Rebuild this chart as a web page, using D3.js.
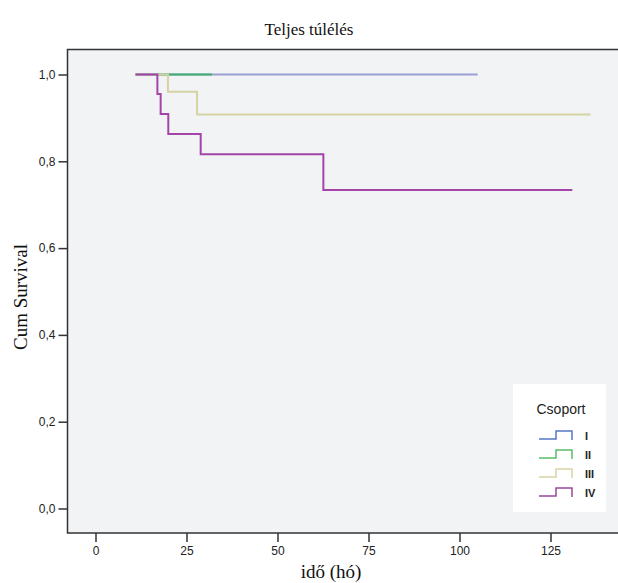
<!DOCTYPE html>
<html>
<head>
<meta charset="utf-8">
<script src="https://cdn.jsdelivr.net/npm/d3@7"></script>
<style>
  body { margin: 0; background: #fff; }
  svg { display: block; }
</style>
</head>
<body>
<div id="chart"></div>
<script>
// data (months, cumulative survival)
var groups = ["I", "II", "III", "IV"];
var colors = ["#9a9fd4", "#3fae6e", "#d5d3a2", "#a444a8"];
var legendColors = ["#5577c6", "#58bd68", "#d8d4a2", "#9a479c"];
var timesI = [11, 105];
var survI = [1, 1];
var timesII = [11, 32];
var survII = [1, 1];
var timesIII = [11, 19.9, 27.9, 136];
var survIII = [1, 0.96, 0.908, 0.908];
var timesIV = [11, 17, 17.9, 20, 28.9, 62.6, 131];
var survIV = [1, 0.955, 0.909, 0.863, 0.816, 0.734, 0.734];
var xTicks = [0, 25, 50, 75, 100, 125];
var yTicks = [0, 0.2, 0.4, 0.6, 0.8, 1.0];

var series = [
    {name: "I", t: timesI, s: survI},
    {name: "II", t: timesII, s: survII},
    {name: "III", t: timesIII, s: survIII},
    {name: "IV", t: timesIV, s: survIV}
];

var width = 618, height = 583;
var frame = {left: 67.5, top: 49.5, bottom: 533};
var serif = "'Liberation Serif', 'Times New Roman', serif";
var sans = "'Liberation Sans', Arial, sans-serif";

var svg = d3.select("#chart").append("svg")
    .attr("width", width).attr("height", height);

var x = d3.scaleLinear().domain([0, 125]).range([95.5, 550.5]);
var y = d3.scaleLinear().domain([0, 1]).range([508.5, 74.5]);

// plot background + frame
svg.append("rect")
    .attr("x", frame.left).attr("y", frame.top)
    .attr("width", 640 - frame.left).attr("height", frame.bottom - frame.top)
    .attr("fill", "#f1f3f5")
    .attr("stroke", "#333").attr("stroke-width", 1.5);

// title
svg.append("text")
    .attr("x", 309).attr("y", 35)
    .attr("text-anchor", "middle")
    .style("font-family", serif)
    .style("font-size", "17px")
    .attr("fill", "#111")
    .text("Teljes túlélés");

// x axis
var xAxis = svg.append("g")
    .attr("transform", "translate(0," + frame.bottom + ")")
    .call(d3.axisBottom(x).tickValues(xTicks).tickSize(9).tickPadding(4));
xAxis.select(".domain").remove();
xAxis.selectAll("line").attr("stroke", "#333").attr("stroke-width", 1.5);
xAxis.selectAll("text")
    .style("font-family", sans)
    .style("font-size", "12px").attr("fill", "#222");

// y axis
var yAxis = svg.append("g")
    .attr("transform", "translate(" + frame.left + ",0)")
    .call(d3.axisLeft(y).tickValues(yTicks).tickSize(9).tickPadding(3)
        .tickFormat(function(d) { return d3.format(".1f")(d).replace(".", ","); }));
yAxis.select(".domain").remove();
yAxis.selectAll("line").attr("stroke", "#333").attr("stroke-width", 1.5);
yAxis.selectAll("text")
    .style("font-family", sans)
    .style("font-size", "12px").attr("fill", "#222");

// axis titles
svg.append("text")
    .attr("x", 331).attr("y", 578)
    .attr("text-anchor", "middle")
    .style("font-family", serif)
    .style("font-size", "19px").attr("fill", "#111")
    .text("idő (hó)");

svg.append("text")
    .attr("transform", "translate(27,297) rotate(-90)")
    .attr("text-anchor", "middle")
    .style("font-family", serif)
    .style("font-size", "19px").attr("fill", "#111")
    .text("Cum Survival");

// survival curves
var line = d3.line()
    .x(function(d) { return x(d[0]); })
    .y(function(d) { return y(d[1]); })
    .curve(d3.curveStepAfter);

series.forEach(function(sr, i) {
    var pts = sr.t.map(function(t, j) { return [t, sr.s[j]]; });
    svg.append("path")
        .datum(pts)
        .attr("fill", "none")
        .attr("stroke", colors[i])
        .attr("stroke-width", 2)
        .attr("d", line);
});

// legend
var lg = svg.append("g").attr("transform", "translate(513,384)");
lg.append("rect")
    .attr("width", 93).attr("height", 128)
    .attr("fill", "#fff");
lg.append("text")
    .attr("x", 48).attr("y", 30)
    .attr("text-anchor", "middle")
    .style("font-family", sans)
    .style("font-size", "14px").attr("fill", "#222")
    .text("Csoport");

groups.forEach(function(g, i) {
    var yy = 55 + i * 19;
    lg.append("path")
        .attr("d", "M26," + yy + "H43V" + (yy - 8) + "H59V" + (yy + 1))
        .attr("fill", "none")
        .attr("stroke", legendColors[i])
        .attr("stroke-width", 1.5);
    lg.append("text")
        .attr("x", 72).attr("y", yy + 1)
        .style("font-family", sans)
        .style("font-size", "11px").style("font-weight", "bold")
        .attr("fill", "#222")
        .text(g);
});
</script>
</body>
</html>
